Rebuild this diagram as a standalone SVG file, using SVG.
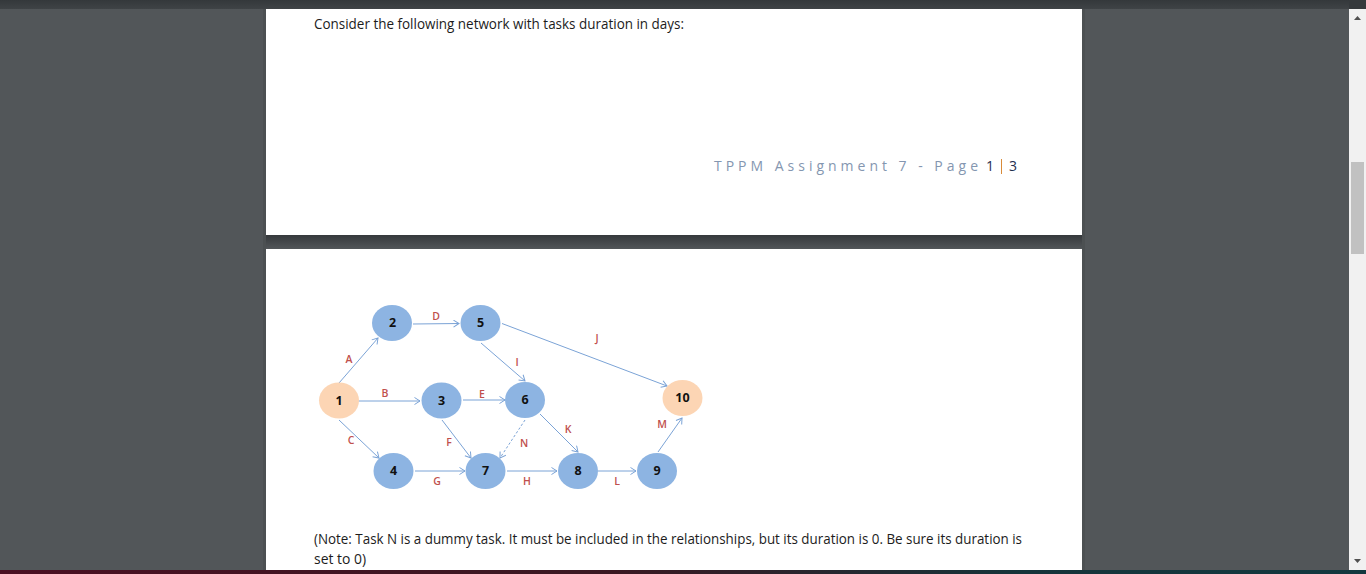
<svg xmlns="http://www.w3.org/2000/svg" width="1366" height="574" viewBox="0 0 1366 574">
<style>
text{font-family:"Open Sans","Noto Sans","Liberation Sans",sans-serif}
.body{font-size:14.5px;fill:#1c1c1c}
.n{font-size:12.5px;font-weight:700;fill:#111;text-anchor:middle}
.l{font-size:10.5px;font-weight:600;fill:#c0504d;text-anchor:middle}
.blue{fill:#8db4e2}
.peach{fill:#fcd5b4}
.c{fill:none;stroke:#7ba3d6;stroke-width:1;marker-end:url(#a)}
</style>
<defs>
<marker id="a" markerUnits="userSpaceOnUse" markerWidth="9" markerHeight="10" refX="6.5" refY="4" orient="auto"><path d="M1 .5L6.5 4L1 7.5" fill="none" stroke="#7ba3d6" stroke-width="1"/></marker>
<linearGradient id="strip"><stop offset="0" stop-color="#4a0f22"/><stop offset=".45" stop-color="#3a1822"/><stop offset=".75" stop-color="#15343a"/><stop offset="1" stop-color="#12383f"/></linearGradient>
<linearGradient id="top" x1="0" y1="0" x2="0" y2="1"><stop offset="0" stop-color="#34383b"/><stop offset="1" stop-color="#3f4346"/></linearGradient>
<linearGradient id="gap" x1="0" y1="0" x2="0" y2="1"><stop offset="0" stop-color="#36393c"/><stop offset="1" stop-color="#525659"/></linearGradient>
</defs>
<rect width="1366" height="574" fill="#525659"/>
<rect width="1349" height="9" fill="url(#top)"/>
<rect x="1349" y="0" width="17" height="9" fill="#35393c"/>
<rect x="266" y="9" width="816" height="226" fill="#fff"/>
<rect x="266" y="235" width="816" height="14" fill="url(#gap)"/>
<rect x="266" y="249" width="816" height="321" fill="#fff"/>
<rect x="1082" y="9" width="3" height="561" fill="#45494c" opacity=".5"/>
<rect x="263" y="9" width="3" height="561" fill="#45494c" opacity=".5"/>
<rect x="1349" y="9" width="17" height="561" fill="#f1f1f1"/>
<rect x="1351" y="162" width="13" height="92" fill="#c1c1c1"/>
<path d="M1354 20L1361 20L1357.500 16Z M1354 559L1361 559L1357.500 563Z" fill="#505050"/>
<rect y="570" width="1366" height="4" fill="url(#strip)"/>
<text class="body" x="314" y="29" textLength="370" lengthAdjust="spacingAndGlyphs">Consider the following network with tasks duration in days:</text>
<text x="714" y="171" font-size="14" fill="#8496b0" textLength="264" lengthAdjust="spacing">TPPM Assignment 7 - Page</text>
<text x="986" y="171" font-size="14" fill="#1f2f4f">1</text>
<rect x="1001" y="159" width="1" height="15" fill="#d98b3a"/>
<text x="1009" y="171" font-size="14" fill="#1f2f4f">3</text>
<text class="body" x="314" y="544" textLength="708" lengthAdjust="spacingAndGlyphs">(Note: Task N is a dummy task. It must be included in the relationships, but its duration is 0. Be sure its duration is</text>
<text class="body" x="314" y="564" textLength="52" lengthAdjust="spacingAndGlyphs">set to 0)</text>
<g id="connectors">
<line class="c" x1="339" y1="383" x2="378" y2="338"/>
<line class="c" x1="413" y1="324" x2="459" y2="323.500"/>
<line class="c" x1="502" y1="323.500" x2="667" y2="386"/>
<line class="c" x1="481" y1="343" x2="525" y2="381"/>
<line class="c" x1="358" y1="401" x2="420" y2="401"/>
<line class="c" x1="463" y1="400" x2="505" y2="400"/>
<line class="c" x1="339" y1="420" x2="379" y2="458"/>
<line class="c" x1="442" y1="420" x2="471" y2="458"/>
<line class="c" x1="415" y1="471" x2="465" y2="471"/>
<line class="c" x1="525" y1="420" x2="500" y2="458" stroke-dasharray="2.500 2"/>
<line class="c" x1="540" y1="414" x2="578" y2="452"/>
<line class="c" x1="507" y1="471" x2="557" y2="471"/>
<line class="c" x1="598" y1="471" x2="636" y2="471"/>
<line class="c" x1="658" y1="452" x2="682" y2="418"/>
</g>
<g id="edge-labels">
<text class="l" x="349" y="363">A</text>
<text class="l" x="436" y="320">D</text>
<text class="l" x="385" y="397">B</text>
<text class="l" x="482" y="398">E</text>
<text class="l" x="517" y="366">I</text>
<text class="l" x="597" y="342">J</text>
<text class="l" x="351" y="444">C</text>
<text class="l" x="449" y="446">F</text>
<text class="l" x="524" y="447">N</text>
<text class="l" x="568" y="433">K</text>
<text class="l" x="662" y="428">M</text>
<text class="l" x="437" y="485">G</text>
<text class="l" x="527" y="485">H</text>
<text class="l" x="617" y="485">L</text>
</g>
<g id="node-1"><ellipse class="peach" cx="339" cy="400.500" rx="20" ry="18"/><text class="n" x="339" y="405">1</text></g>
<g id="node-2"><ellipse class="blue" cx="392" cy="323" rx="20" ry="18"/><text class="n" x="392.500" y="327">2</text></g>
<g id="node-3"><ellipse class="blue" cx="441.500" cy="400.500" rx="20" ry="18"/><text class="n" x="441.500" y="405">3</text></g>
<g id="node-4"><ellipse class="blue" cx="393.500" cy="471" rx="20" ry="18"/><text class="n" x="393.500" y="475">4</text></g>
<g id="node-5"><ellipse class="blue" cx="480.500" cy="323" rx="20" ry="18"/><text class="n" x="480.500" y="327">5</text></g>
<g id="node-6"><ellipse class="blue" cx="525" cy="400" rx="20" ry="18"/><text class="n" x="525" y="404">6</text></g>
<g id="node-7"><ellipse class="blue" cx="485.500" cy="471" rx="20" ry="18"/><text class="n" x="485.500" y="475">7</text></g>
<g id="node-8"><ellipse class="blue" cx="578" cy="471" rx="20" ry="18"/><text class="n" x="578" y="475">8</text></g>
<g id="node-9"><ellipse class="blue" cx="657" cy="471" rx="20" ry="18"/><text class="n" x="657" y="475">9</text></g>
<g id="node-10"><ellipse class="peach" cx="682.500" cy="398" rx="20" ry="18"/><text class="n" x="682.500" y="402">10</text></g>
</svg>
